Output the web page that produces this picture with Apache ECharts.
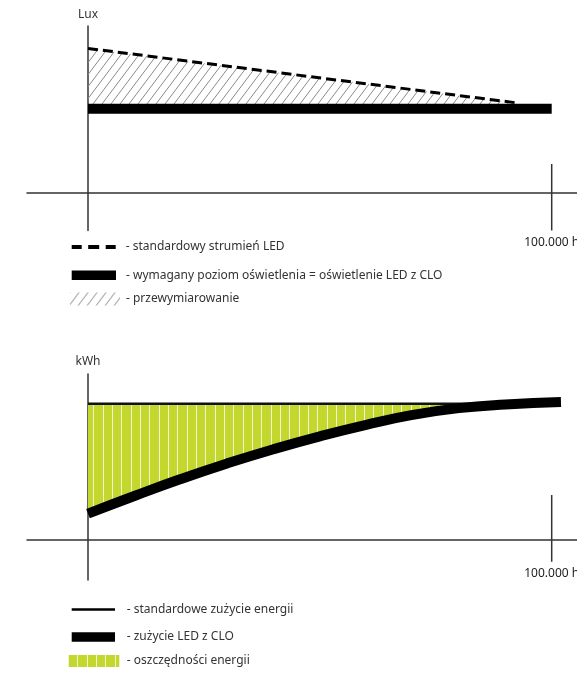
<!DOCTYPE html>
<html>
<head>
<meta charset="utf-8">
<script src="https://cdn.jsdelivr.net/npm/echarts@6.0.0/dist/echarts.min.js"></script>
<style>
html,body{margin:0;padding:0;background:#fff;}
#chart{width:577px;height:675px;}
</style>
</head>
<body>
<div id="chart"></div>
<script>
// ---------- data ----------
const xTickValues = [100000];
const xTickLabels = ['100.000 h'];

// top chart (Lux)
const luxAxisName = 'Lux';
const standardFluxX = [0, 92000];
const standardFlux = [103, 64.3];
const requiredLevelX = [0, 100000];
const requiredLevel = [60, 60];

// bottom chart (kWh)
const kwhAxisName = 'kWh';
const standardUseX = [0, 100000];
const standardUse = [100, 100];
const cloUseX = [0, 10000, 20000, 30000, 40000, 50000, 60000, 70000, 80000, 90000, 102000];
const cloUse = [19, 32, 44.5, 56, 66.5, 76, 84.5, 91.8, 96.8, 99.5, 101.3];

// vertical marker at 100.000 h (y extent in each chart)
const luxMarkerY = [20.5, -27];
const kwhMarkerY = [32.7, -16.5];

const names = {
  flux: 'standardowy strumień LED',
  required: 'wymagany poziom oświetlenia = oświetlenie LED z CLO',
  over: 'przewymiarowanie',
  stdUse: 'standardowe zużycie energii',
  clo: 'zużycie LED z CLO',
  save: 'oszczędności energii'
};

// ---------- helpers ----------
const zip = (xs, ys) => xs.map((x, i) => [x, ys[i]]);
const FONT = 'Noto Sans';

function hatchPattern() {
  const c = document.createElement('canvas');
  c.width = 9; c.height = 12;
  const g = c.getContext('2d');
  g.strokeStyle = '#8a8a8a';
  g.lineWidth = 1;
  for (let k = -1; k <= 1; k++) {
    g.beginPath();
    g.moveTo(k * 9, 12);
    g.lineTo(k * 9 + 9, 0);
    g.stroke();
  }
  return { image: c, repeat: 'repeat' };
}
function stripePattern() {
  const c = document.createElement('canvas');
  c.width = 28; c.height = 4;
  const g = c.getContext('2d');
  g.fillStyle = '#c4d72f';
  g.fillRect(0, 0, 28, 4);
  g.fillStyle = '#eef4cc';
  [0, 9, 19].forEach(x => g.fillRect(x, 0, 1, 4));
  return { image: c, repeat: 'repeat' };
}
const hatch = hatchPattern();
const stripes = stripePattern();

const AX = '#333';
function xAxisCfg(gridIndex, margin) {
  return {
    type: 'value', gridIndex, min: -13155, max: 105456,
    axisLine: { show: true, onZero: true, lineStyle: { color: AX, width: 1.5 } },
    axisTick: { show: false },
    splitLine: { show: false },
    axisLabel: {
      customValues: xTickValues,
      formatter: v => xTickLabels[xTickValues.indexOf(v)] || '',
      margin, fontSize: 12, color: '#222', fontFamily: FONT
    }
  };
}
function yAxisCfg(gridIndex, min, max, name, gap) {
  return {
    type: 'value', gridIndex, min, max, name, nameLocation: 'end', nameGap: gap,
    nameTextStyle: { color: '#333', fontSize: 12, fontFamily: FONT },
    axisLine: { show: true, onZero: true, lineStyle: { color: AX, width: 1.5 } },
    axisTick: { show: false }, axisLabel: { show: false }, splitLine: { show: false }
  };
}
function legendCfg(name, top, left, icon, w, h, color, pad) {
  return {
    data: [{ name, icon, itemStyle: { color, borderWidth: 0 } }],
    top, left, itemWidth: w, itemHeight: h, padding: 0,
    selectedMode: false,
    formatter: n => '- ' + n,
    textStyle: { color: '#333', fontSize: 12, fontFamily: FONT, padding: [0, 0, 0, pad] }
  };
}

const option = {
  animation: false,
  backgroundColor: '#fff',
  grid: [
    { left: 27, width: 550, top: 26, height: 204.5, containLabel: false, outerBoundsMode: 'none' },
    { left: 27, width: 550, top: 374, height: 206, containLabel: false, outerBoundsMode: 'none' }
  ],
  xAxis: [xAxisCfg(0, 6), xAxisCfg(1, -12.5)],
  yAxis: [yAxisCfg(0, -27, 119, luxAxisName, 5), yAxisCfg(1, -30, 122, kwhAxisName, 6)],
  legend: [
    legendCfg(names.flux, 241, 71.7, 'path://M0,0h10v4h-10zM16.5,0h11v4h-11zM34,0h10v4h-10z', 44, 4, '#000', 5),
    legendCfg(names.required, 269.2, 71.7, 'rect', 44.3, 9.5, '#000', 5),
    legendCfg(names.over, 292.5, 70, 'rect', 50, 13, hatch, 1),
    legendCfg(names.stdUse, 603.6, 71.7, 'rect', 43.3, 2.5, '#000', 6.7),
    legendCfg(names.clo, 631, 71.7, 'rect', 43.3, 9.5, '#000', 6.7),
    legendCfg(names.save, 655, 68, 'rect', 51.3, 12, stripes, 2.5)
  ],
  series: [
    // top chart
    {
      name: names.over, type: 'line', xAxisIndex: 0, yAxisIndex: 0,
      data: zip(standardFluxX, standardFlux), symbol: 'none',
      lineStyle: { width: 0 }, itemStyle: { color: '#8f8f8f' },
      areaStyle: { color: hatch, opacity: 1, origin: requiredLevel[0] }
    },
    {
      name: names.flux, type: 'line', xAxisIndex: 0, yAxisIndex: 0,
      data: zip(standardFluxX, standardFlux), symbol: 'none',
      itemStyle: { color: '#000' },
      lineStyle: { color: '#000', width: 3, type: [10, 5], cap: 'butt' }
    },
    {
      name: names.required, type: 'line', xAxisIndex: 0, yAxisIndex: 0,
      data: zip(requiredLevelX, requiredLevel), symbol: 'none',
      itemStyle: { color: '#000' },
      lineStyle: { color: '#000', width: 10, cap: 'butt' }
    },
    {
      name: 'marker-top', type: 'line', xAxisIndex: 0, yAxisIndex: 0,
      data: luxMarkerY.map(y => [xTickValues[0], y]), symbol: 'none',
      lineStyle: { color: AX, width: 1.5 }, silent: true
    },
    // bottom chart
    {
      name: names.save, type: 'line', xAxisIndex: 1, yAxisIndex: 1,
      data: zip(cloUseX, cloUse), symbol: 'none', smooth: 0.5,
      lineStyle: { width: 0 }, itemStyle: { color: '#c4d72f' },
      areaStyle: { color: stripes, opacity: 1, origin: standardUse[0] }
    },
    {
      name: names.stdUse, type: 'line', xAxisIndex: 1, yAxisIndex: 1,
      data: zip(standardUseX, standardUse), symbol: 'none',
      itemStyle: { color: '#000' },
      lineStyle: { color: '#111', width: 2.5 }
    },
    {
      name: names.clo, type: 'line', xAxisIndex: 1, yAxisIndex: 1,
      data: zip(cloUseX, cloUse), symbol: 'none', smooth: 0.5,
      itemStyle: { color: '#000' },
      lineStyle: { color: '#000', width: 10, cap: 'butt' }
    },
    {
      name: 'marker-bottom', type: 'line', xAxisIndex: 1, yAxisIndex: 1,
      data: kwhMarkerY.map(y => [xTickValues[0], y]), symbol: 'none',
      lineStyle: { color: AX, width: 1.5 }, silent: true
    }
  ]
};

const chart = echarts.init(document.getElementById('chart'), null, { renderer: 'canvas' });
chart.setOption(option);
</script>
</body>
</html>
